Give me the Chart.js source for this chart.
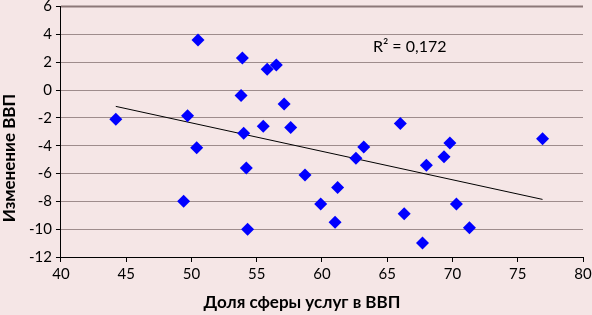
<!DOCTYPE html>
<html><head><meta charset="utf-8">
<script src="https://cdn.jsdelivr.net/npm/chart.js@4/dist/chart.umd.min.js"></script>
<style>html,body{margin:0;padding:0;background:#F5E6E6;}#w{width:592px;height:315px;}</style>
</head><body><div id="w"><canvas id="c"></canvas></div>
<script>
const xTitle = "Доля сферы услуг в ВВП";
const yTitle = "Изменение ВВП";
const r2Label = "R² = 0,172";
const serviceShare = [44.2,49.4,49.7,50.5,50.4,53.9,53.8,54.0,54.2,54.3,55.8,56.5,55.5,57.1,57.6,58.7,59.9,61.2,61.0,62.6,63.2,66.0,66.3,67.7,68.0,69.35,69.8,70.3,71.3,76.9];
const gdpChange = [-2.1,-8.0,-1.85,3.6,-4.15,2.3,-0.4,-3.1,-5.6,-10.0,1.5,1.8,-2.6,-1.0,-2.7,-6.1,-8.2,-7.0,-9.5,-4.9,-4.1,-2.4,-8.9,-11.0,-5.4,-4.8,-3.8,-8.2,-9.9,-3.5];

const pts = serviceShare.map((x,i)=>({x, y: gdpChange[i]}));
const n = pts.length;
const mx = serviceShare.reduce((a,b)=>a+b,0)/n;
const my = gdpChange.reduce((a,b)=>a+b,0)/n;
let sxy=0, sxx=0;
for (let i=0;i<n;i++){ sxy+=(serviceShare[i]-mx)*(gdpChange[i]-my); sxx+=(serviceShare[i]-mx)**2; }
const slope = sxy/sxx, icpt = my - slope*mx;
const xmin = Math.min(...serviceShare), xmax = Math.max(...serviceShare);
const trend = [{x:xmin,y:icpt+slope*xmin},{x:xmax,y:icpt+slope*xmax}];

const FONT = 'Lato, "Open Sans", sans-serif';
const bgPlugin = {
  id:'bg',
  beforeDraw(chart){ const c=chart.ctx; c.save(); c.fillStyle='#F5E6E6'; c.fillRect(0,0,chart.width,chart.height); c.restore(); },
  beforeDatasetsDraw(chart){
    const c=chart.ctx, a=chart.chartArea;
    c.save(); c.strokeStyle='#8c7878'; c.lineWidth=2;
    c.beginPath(); c.moveTo(a.left,a.top); c.lineTo(a.right,a.top); c.stroke(); c.restore();
  },
  afterDatasetsDraw(chart){
    const c=chart.ctx, a=chart.chartArea;
    c.save();
    c.fillStyle='#000'; c.textBaseline='middle'; c.textAlign='left';
    c.font='16px ' + FONT;
    c.fillText(r2Label, a.left + 0.5975*(a.right-a.left), a.top + 40);
    c.font='bold 17px ' + FONT;
    c.textAlign='center';
    c.fillText(xTitle, 302, 303);
    c.translate(10, 158); c.rotate(-Math.PI/2);
    c.fillText(yTitle, 0, 0);
    c.restore();
  }
};

new Chart(document.getElementById('c'), {
  type:'scatter',
  data:{datasets:[
    {data:pts, pointStyle:'rectRot', pointRadius:6.5, pointHoverRadius:6.5, backgroundColor:'#0000FF', borderColor:'#0000FF', borderWidth:0, order:1},
    {type:'line', data:trend, borderColor:'#000', borderWidth:1, pointRadius:0, fill:false, order:2}
  ]},
  options:{
    responsive:true, maintainAspectRatio:false, animation:false,
    layout:{padding:{left:25,right:9,top:6,bottom:29}},
    plugins:{legend:{display:false}, tooltip:{enabled:false}},
    scales:{
      x:{type:'linear', min:40, max:80,
        afterFit(s){ s.paddingRight = 0; },
        ticks:{stepSize:5, color:'#000', font:{family:FONT, size:15}, padding:3},
        grid:{drawOnChartArea:false, drawTicks:true, tickLength:5, color:'#000'},
        border:{color:'#000', width:1}
      },
      y:{min:-12, max:6,
        afterFit(s){ s.paddingTop = 0; },
        ticks:{stepSize:2, color:'#000', font:{family:FONT, size:15}, padding:4},
        grid:{color:'#9e8c8c', lineWidth:1, tickLength:5, tickColor:'#000'},
        border:{color:'#000', width:1}
      }
    }
  },
  plugins:[bgPlugin]
});
</script></body></html>
